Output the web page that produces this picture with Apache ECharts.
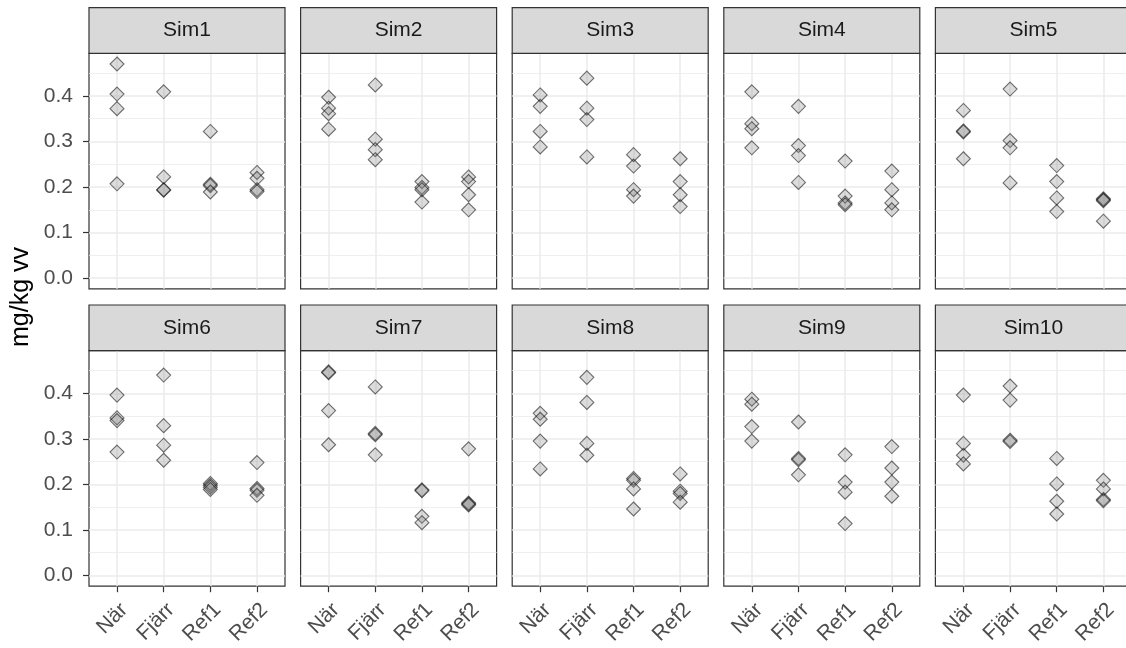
<!DOCTYPE html>
<html>
<head>
<meta charset="utf-8">
<script src="https://cdn.jsdelivr.net/npm/echarts@6/dist/echarts.min.js"></script>
<style>
html,body{margin:0;padding:0;background:#fff;}
#chart{width:1126px;height:648px;}
</style>
</head>
<body>
<div id="chart"></div>
<script>
// ---- data ----
const simNames = ['Sim1','Sim2','Sim3','Sim4','Sim5','Sim6','Sim7','Sim8','Sim9','Sim10'];
const categories = ['När','Fjärr','Ref1','Ref2'];
const yTickValues = [0, 0.1, 0.2, 0.3, 0.4];
const yMinorValues = [0.05, 0.15, 0.25, 0.35, 0.45];
const yAxisTitle = 'mg/kg vv';

// values per category (När, Fjärr, Ref1, Ref2)
const sim1  = [[0.470,0.404,0.372,0.207],[0.409,0.222,0.194,0.193],[0.322,0.206,0.203,0.189],[0.232,0.219,0.194,0.190]];
const sim2  = [[0.397,0.373,0.361,0.327],[0.424,0.305,0.282,0.260],[0.212,0.199,0.194,0.167],[0.222,0.212,0.183,0.150]];
const sim3  = [[0.402,0.377,0.322,0.288],[0.439,0.373,0.348,0.266],[0.271,0.246,0.194,0.180],[0.262,0.212,0.183,0.157]];
const sim4  = [[0.409,0.339,0.328,0.286],[0.377,0.291,0.269,0.210],[0.257,0.180,0.165,0.161],[0.235,0.194,0.165,0.150]];
const sim5  = [[0.368,0.323,0.321,0.262],[0.415,0.302,0.286,0.209],[0.247,0.212,0.176,0.146],[0.174,0.172,0.170,0.125]];
const sim6  = [[0.396,0.346,0.340,0.271],[0.440,0.329,0.286,0.253],[0.202,0.198,0.194,0.189],[0.248,0.191,0.187,0.176]];
const sim7  = [[0.447,0.445,0.362,0.287],[0.414,0.312,0.309,0.265],[0.188,0.186,0.130,0.116],[0.278,0.159,0.157,0.155]];
const sim8  = [[0.356,0.343,0.295,0.234],[0.435,0.380,0.290,0.264],[0.213,0.209,0.190,0.146],[0.223,0.185,0.180,0.161]];
const sim9  = [[0.387,0.376,0.327,0.295],[0.337,0.257,0.254,0.221],[0.265,0.205,0.183,0.114],[0.283,0.236,0.205,0.174]];
const sim10 = [[0.396,0.290,0.264,0.245],[0.416,0.385,0.297,0.294],[0.257,0.201,0.163,0.135],[0.209,0.190,0.167,0.164]];
const simValues = [sim1,sim2,sim3,sim4,sim5,sim6,sim7,sim8,sim9,sim10];

// ---- layout ----
const FONT = '"Liberation Sans", Arial, Helvetica, sans-serif';
const panelLeft0 = 89, panelStep = 211.6, panelW = 196;
const rowTops = [53.3, 350.7];
const panelH = 235.5;
const stripH = 45.7;
const yMin = -0.0235, yMax = 0.4935;
const xMin = -0.6, xMax = 3.6;

const chart = echarts.init(document.getElementById('chart'), null, {renderer: 'canvas'});

const grids = [], xAxes = [], yAxes = [], series = [], graphics = [];
const catIdx = categories.map((c, i) => i);

simNames.forEach((name, i) => {
  const row = Math.floor(i / 5), col = i % 5;
  const left = panelLeft0 + col * panelStep;
  const top = rowTops[row];
  grids.push({
    left: left, top: top, width: panelW, height: panelH,
    containLabel: false, outerBoundsMode: 'none',
    show: true, borderColor: '#333333', borderWidth: 1.2, backgroundColor: '#ffffff', z: 0
  });
  xAxes.push({
    type: 'value', gridIndex: i, min: xMin, max: xMax, position: 'bottom',
    splitLine: {show: false}, axisLine: {show: false, onZero: false},
    axisTick: {show: row === 1, customValues: catIdx, length: 6, lineStyle: {color: '#333333', width: 1.2}},
    axisLabel: {show: row === 1, customValues: catIdx, formatter: v => categories[Math.round(v)],
      rotate: 45, verticalAlign: 'top', color: '#4D4D4D', fontSize: 21, fontFamily: FONT, margin: 13}
  });
  yAxes.push({
    type: 'value', gridIndex: i, min: yMin, max: yMax, position: 'left',
    splitLine: {show: false}, axisLine: {show: false, onZero: false},
    axisTick: {show: col === 0, customValues: yTickValues, length: 6, lineStyle: {color: '#333333', width: 1.2}},
    axisLabel: {show: col === 0, customValues: yTickValues, formatter: v => v.toFixed(1),
      color: '#4D4D4D', fontSize: 21, fontFamily: FONT, margin: 16}
  });
  // gridlines through the axes' scales
  const mlData = [];
  yMinorValues.forEach(v => mlData.push({yAxis: v, lineStyle: {color: '#EBEBEB', width: 0.8, type: 'solid'}}));
  yTickValues.forEach(v => mlData.push({yAxis: v, lineStyle: {color: '#EBEBEB', width: 1.5, type: 'solid'}}));
  catIdx.forEach(v => mlData.push({xAxis: v, lineStyle: {color: '#EBEBEB', width: 1.5, type: 'solid'}}));
  const pts = [];
  simValues[i].forEach((vals, ci) => vals.forEach(v => pts.push([ci, v])));
  series.push({
    type: 'scatter', name: name, xAxisIndex: i, yAxisIndex: i,
    data: pts, symbol: 'diamond', symbolSize: 14, z: 3,
    itemStyle: {color: 'rgba(120,120,120,0.33)', borderColor: 'rgba(0,0,0,0.68)', borderWidth: 1.1},
    emphasis: {disabled: true}, silent: true,
    markLine: {silent: true, z: 1, symbol: ['none','none'], label: {show: false},
      animation: false, emphasis: {disabled: true},
      lineStyle: {type: 'solid', color: '#EBEBEB'}, data: mlData}
  });
  graphics.push({
    type: 'rect', shape: {x: left, y: top - stripH, width: panelW, height: stripH},
    style: {fill: '#D9D9D9', stroke: '#333333', lineWidth: 1.2}, z: 10
  });
  graphics.push({
    type: 'text', x: left + panelW / 2, y: top - stripH / 2,
    style: {text: name, fill: '#1A1A1A', font: '21px ' + FONT, textAlign: 'center', textVerticalAlign: 'middle'}, z: 11
  });
});

graphics.push({
  type: 'text', x: 21, y: 297, rotation: Math.PI / 2,
  style: {text: yAxisTitle, fill: '#000000', font: '25px ' + FONT, textAlign: 'center', textVerticalAlign: 'middle'}, z: 11
});

chart.setOption({
  animation: false,
  backgroundColor: '#ffffff',
  grid: grids, xAxis: xAxes, yAxis: yAxes, series: series, graphic: graphics
});
</script>
</body>
</html>
